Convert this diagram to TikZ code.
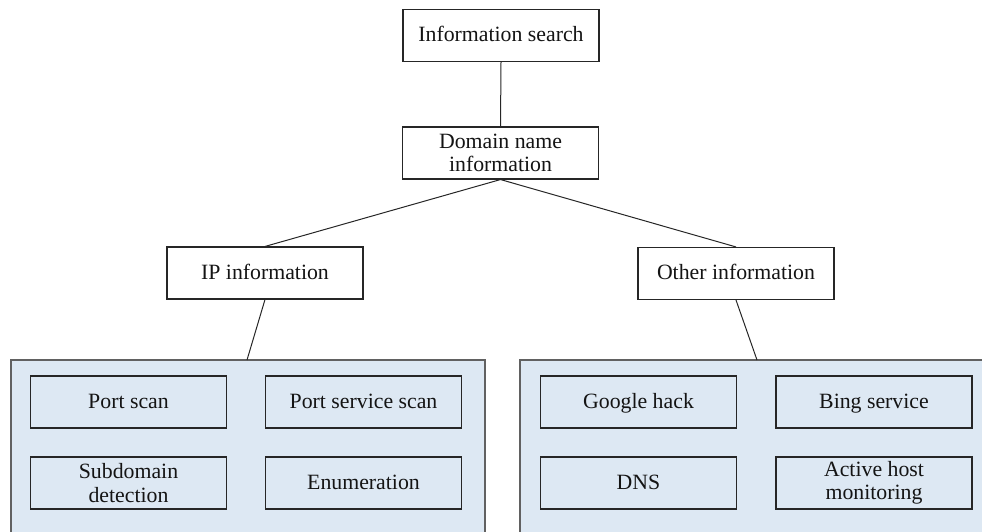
\documentclass[tikz,border=0pt]{standalone}
\usepackage{fontspec}
\setmainfont{Liberation Serif}
\begin{document}
\begin{tikzpicture}[x=1pt,y=-1pt,
  box/.style={draw=black!85, line width=1.1pt, fill=white, inner sep=0pt,
    minimum width=196pt, minimum height=52pt, align=center,
    font=\fontsize{21.8}{23.5}\selectfont, text=black!92},
  oneline/.style={text height=17pt, text depth=5pt},
  itembox/.style={box, fill=panelblue},
  panel/.style={draw=black!62, line width=1.6pt, fill=panelblue, inner sep=0pt,
    minimum height=174pt},
  link/.style={draw=black!85, line width=1pt}]
\definecolor{panelblue}{HTML}{DDE8F3}
\useasboundingbox (0,0) rectangle (982,532);
\begin{scope}
\clip (0,0) rectangle (982,532);
% grouped panels
\node[panel, minimum width=474pt] (lpanel) at (248,447) {};
\node[panel, minimum width=474pt] (rpanel) at (757,447) {};
\end{scope}
% tree nodes
\node[box, oneline] (search) at (501,35.5) {Information search};
\node[box] (domain) at (500.5,153) {Domain name\\information};
\node[box, oneline] (ip) at (265,273) {IP information};
\node[box, oneline] (other) at (736,273.5) {Other information};
% items of the left panel
\node[itembox, oneline] (port) at (128.5,402) {Port scan};
\node[itembox, oneline] (service) at (363.5,402) {Port service scan};
\node[itembox] (subdomain) at (128.5,483) {Subdomain\\detection};
\node[itembox, oneline] (enum) at (363.5,483) {Enumeration};
% items of the right panel
\node[itembox, oneline] (google) at (638.5,402) {Google hack};
\node[itembox, oneline] (bing) at (874,402) {Bing service};
\node[itembox, oneline] (dns) at (638.5,483) {DNS};
\node[itembox] (active) at (874,483) {Active host\\monitoring};
% where the links meet the panels
\coordinate (ltop) at (247,360);
\coordinate (rtop) at (757,360);
% links
\draw[link] (search.south) -- (domain.north);
\draw[link] (domain.south) -- (ip.north);
\draw[link] (domain.south) -- (other.north);
\draw[link] (ip.south) -- (ltop);
\draw[link] (other.south) -- (rtop);
\end{tikzpicture}
\end{document}
